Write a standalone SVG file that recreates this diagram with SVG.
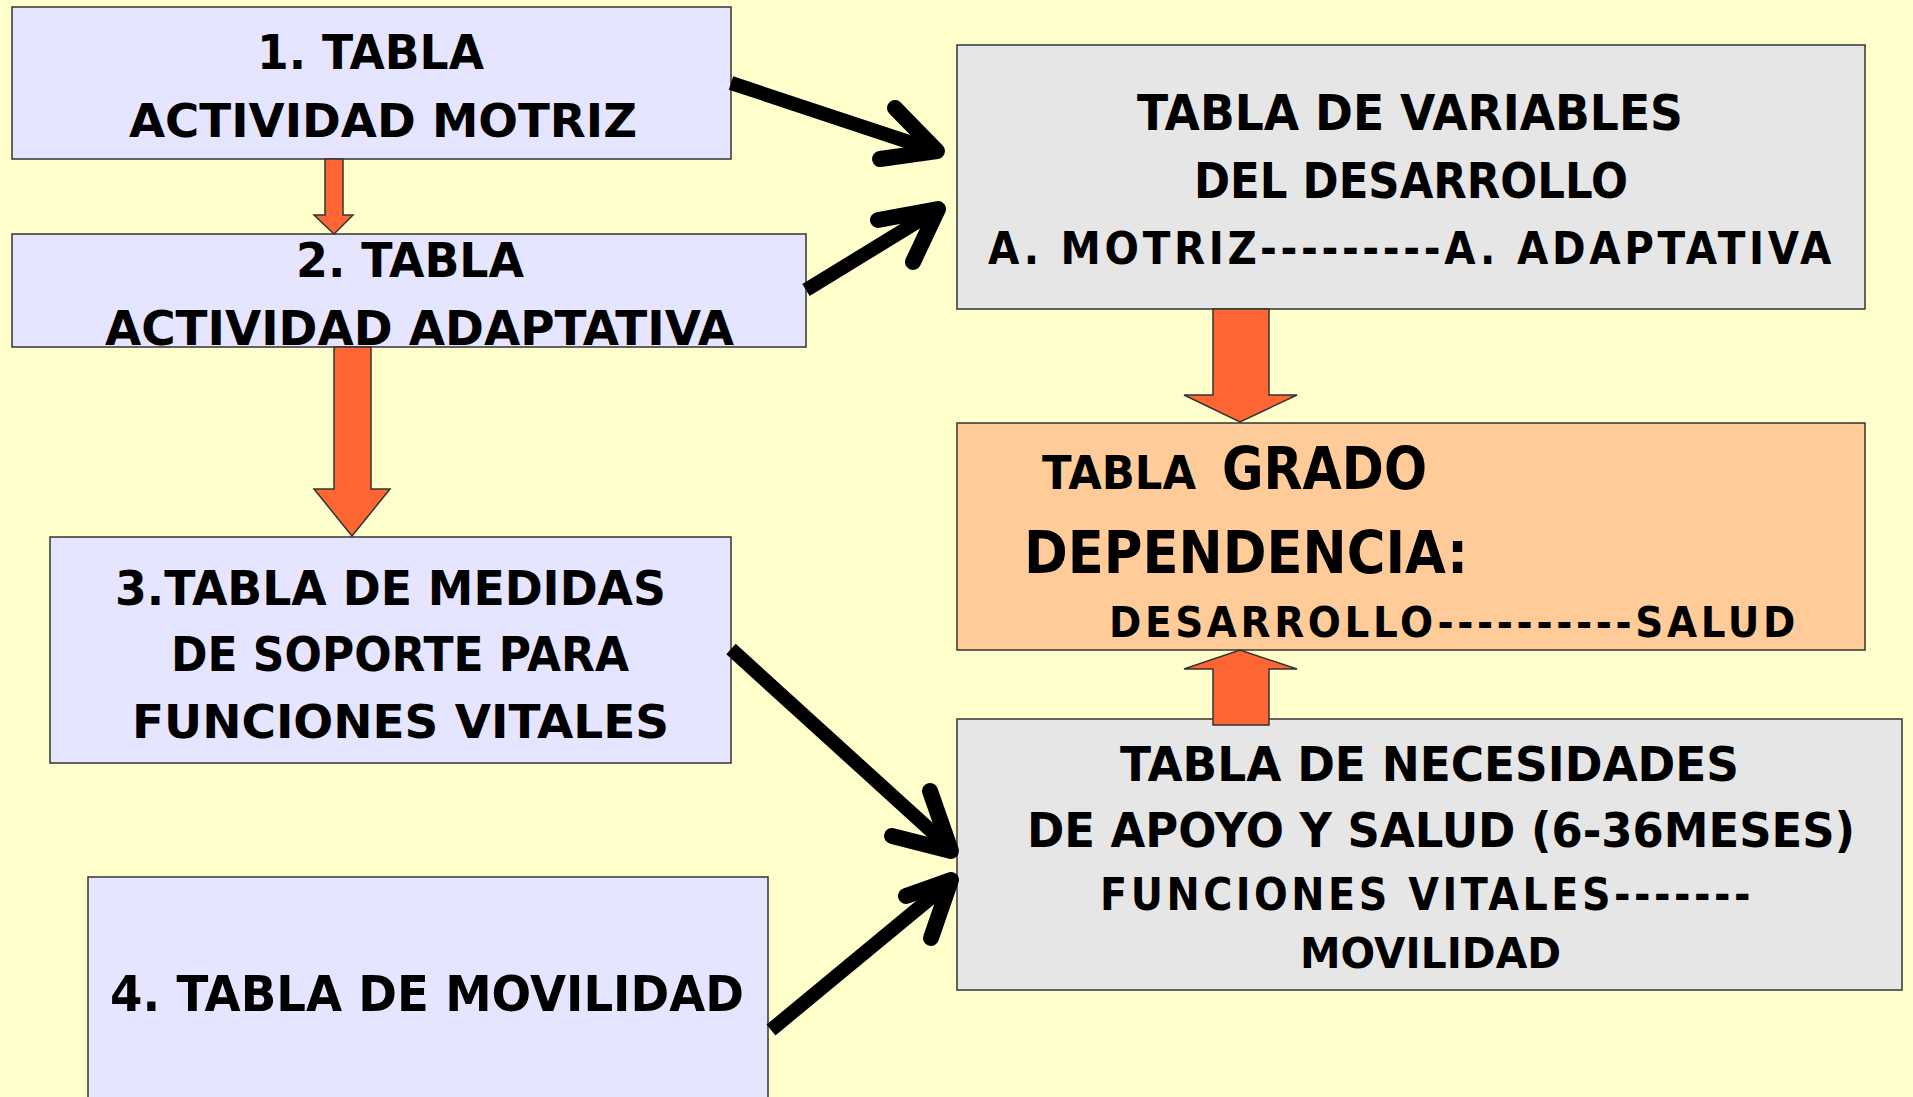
<svg xmlns="http://www.w3.org/2000/svg" width="1913" height="1097" viewBox="0 0 1913 1097">
<style>
.bg{fill:#FFFFCC}
.lav{fill:#E5E5FF;stroke:#333;stroke-width:1.5}
.gray{fill:#E6E6E6;stroke:#333;stroke-width:1.5}
.org{fill:#FFCC99;stroke:#333;stroke-width:1.5}
.blk{fill:none;stroke:#000;stroke-width:16;stroke-linecap:round;stroke-linejoin:round}
.blkl{fill:none;stroke:#000;stroke-width:14;stroke-linecap:butt}
.oa{fill:#FF6633;stroke:#333;stroke-width:1.5}
text{font-family:"DejaVu Sans","Liberation Sans",sans-serif;font-weight:bold;fill:#000}
.ls{letter-spacing:4px}
</style>
<rect class="bg" x="0" y="0" width="1913" height="1097"/>
<g id="n1">
<rect class="lav" x="12" y="7" width="719" height="152"/>
<text x="257" y="69" font-size="48" textLength="227" lengthAdjust="spacingAndGlyphs">1. TABLA</text>
<text x="129" y="137" font-size="47" textLength="508" lengthAdjust="spacingAndGlyphs">ACTIVIDAD MOTRIZ</text>
</g>
<g id="n2">
<rect class="lav" x="12" y="234" width="794" height="113"/>
<text x="296" y="277" font-size="48" textLength="228" lengthAdjust="spacingAndGlyphs">2. TABLA</text>
<text x="105" y="345" font-size="48" textLength="629" lengthAdjust="spacingAndGlyphs">ACTIVIDAD ADAPTATIVA</text>
</g>
<g id="n3">
<rect class="lav" x="50" y="537" width="681" height="226"/>
<text x="115" y="605" font-size="48" textLength="551" lengthAdjust="spacingAndGlyphs">3.TABLA DE MEDIDAS</text>
<text x="171" y="671" font-size="48" textLength="458" lengthAdjust="spacingAndGlyphs">DE SOPORTE PARA</text>
<text x="132" y="738" font-size="47" textLength="537" lengthAdjust="spacingAndGlyphs">FUNCIONES VITALES</text>
</g>
<g id="n4">
<rect class="lav" x="88" y="877" width="680" height="230"/>
<text x="110" y="1011" font-size="50" textLength="634" lengthAdjust="spacingAndGlyphs">4. TABLA DE MOVILIDAD</text>
</g>
<g id="n5">
<rect class="gray" x="957" y="45" width="908" height="264"/>
<text x="1137" y="130" font-size="49" textLength="546" lengthAdjust="spacingAndGlyphs">TABLA DE VARIABLES</text>
<text x="1194" y="198" font-size="49" textLength="434" lengthAdjust="spacingAndGlyphs">DEL DESARROLLO</text>
<text class="ls" x="988" y="264" font-size="44" textLength="847" lengthAdjust="spacingAndGlyphs">A. MOTRIZ---------A. ADAPTATIVA</text>
</g>
<g id="n6">
<rect class="org" x="957" y="423" width="908" height="227"/>
<text x="1042" y="489" font-size="47" textLength="154" lengthAdjust="spacingAndGlyphs">TABLA</text>
<text x="1222" y="489" font-size="59" textLength="205" lengthAdjust="spacingAndGlyphs">GRADO</text>
<text x="1024" y="573" font-size="58" textLength="444" lengthAdjust="spacingAndGlyphs">DEPENDENCIA:</text>
<text class="ls" x="1109" y="637" font-size="43" textLength="690" lengthAdjust="spacingAndGlyphs">DESARROLLO----------SALUD</text>
</g>
<g id="n7">
<rect class="gray" x="957" y="719" width="945" height="271"/>
<text x="1120" y="781" font-size="48" textLength="619" lengthAdjust="spacingAndGlyphs">TABLA DE NECESIDADES</text>
<text x="1027" y="847" font-size="48" textLength="828" lengthAdjust="spacingAndGlyphs">DE APOYO Y SALUD (6-36MESES)</text>
<text class="ls" x="1100" y="910" font-size="45" textLength="654" lengthAdjust="spacingAndGlyphs">FUNCIONES VITALES-------</text>
<text x="1300" y="968" font-size="42" textLength="261" lengthAdjust="spacingAndGlyphs">MOVILIDAD</text>
</g>
<g id="connectors">
<polygon class="oa" points="325,159 343,159 343,215 353,215 334,234 314,215 325,215"/>
<polygon class="oa" points="334,347 371,347 371,489 390,489 352,536 314,489 334,489"/>
<polygon class="oa" points="1213,309 1269,309 1269,395 1297,395 1240,422 1184,395 1213,395"/>
<polygon class="oa" points="1213,725 1269,725 1269,669 1297,669 1240,650 1184,669 1213,669"/>
<line class="blkl" x1="731" y1="83" x2="933" y2="150"/>
<polyline class="blk" points="895,108 937,151 880,159"/>
<line class="blkl" x1="806" y1="290" x2="935" y2="211"/>
<polyline class="blk" points="878,220 938,209 913,262"/>
<line class="blkl" x1="731" y1="649" x2="950" y2="848"/>
<polyline class="blk" points="930,791 951,851 892,836"/>
<line class="blkl" x1="771" y1="1030" x2="950" y2="882"/>
<polyline class="blk" points="906,896 951,880 931,938"/>
</g>
</svg>
